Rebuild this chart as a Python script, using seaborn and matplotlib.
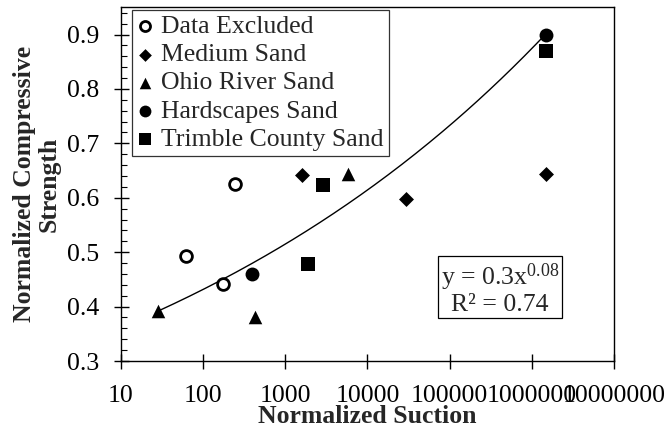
import numpy as np
import pandas as pd
import matplotlib
matplotlib.use("Agg")
import matplotlib.pyplot as plt
import seaborn as sns
from matplotlib.ticker import LogLocator, MultipleLocator, FixedLocator, FixedFormatter

# ---- data -------------------------------------------------------------
excluded_x = [62.5, 175, 247]
excluded_y = [0.493, 0.441, 0.626]

medium_x = [1585, 29200, 1.47e6]
medium_y = [0.641, 0.597, 0.643]

ohio_x = [28.8, 433, 5750]
ohio_y = [0.392, 0.380, 0.643]

hardscapes_x = [394, 1.47e6]
hardscapes_y = [0.460, 0.900]

trimble_x = [1897, 2911, 1.47e6]
trimble_y = [0.478, 0.624, 0.869]

# power-law trendline y = a * x^b
trend_a = 0.303
trend_b = 0.0767
trend_r2 = 0.74
trend_range = [28.8, 1.47e6]

x_ticks = [10, 100, 1000, 10000, 100000, 1000000, 10000000]
x_tick_labels = ["10", "100", "1000", "10000", "100000", "1000000", "10000000"]
y_ticks = [0.3, 0.4, 0.5, 0.6, 0.7, 0.8, 0.9]

# ---- style ------------------------------------------------------------
sns.set_style("white")
plt.rcParams["font.family"] = ["Liberation Serif", "DejaVu Serif"]
plt.rcParams["mathtext.fontset"] = "custom"
plt.rcParams["mathtext.rm"] = "Liberation Serif"
plt.rcParams["mathtext.it"] = "Liberation Serif:italic"
FS = 18.5

fig = plt.figure(figsize=(6.68, 4.29), dpi=100)
ax = fig.add_axes([0.1807, 0.1585, 0.7385, 0.8245])

series = [
    ("Data Excluded", excluded_x, excluded_y, dict(marker="o", s=72, facecolor="white", edgecolor="black", linewidth=2.0)),
    ("Medium Sand", medium_x, medium_y, dict(marker="D", s=58, color="black", linewidth=0)),
    ("Ohio River Sand", ohio_x, ohio_y, dict(marker="^", s=95, color="black", linewidth=0)),
    ("Hardscapes Sand", hardscapes_x, hardscapes_y, dict(marker="o", s=100, color="black", linewidth=0)),
    ("Trimble County Sand", trimble_x, trimble_y, dict(marker="s", s=92, color="black", linewidth=0)),
]

# trendline
tx = np.logspace(np.log10(trend_range[0]), np.log10(trend_range[1]), 200)
trend = pd.DataFrame({"x": tx, "y": trend_a * tx ** trend_b})
sns.lineplot(data=trend, x="x", y="y", ax=ax, color="black", linewidth=1.0, zorder=2)

for name, xs, ys, kw in series:
    df = pd.DataFrame({"x": xs, "y": ys})
    sns.scatterplot(data=df, x="x", y="y", ax=ax, label=name, zorder=3, **kw)

ax.set_xscale("log")
ax.set_xlim(10, 1e7)
ax.set_ylim(0.3, 0.95)

ax.xaxis.set_major_locator(FixedLocator(x_ticks))
ax.xaxis.set_major_formatter(FixedFormatter(x_tick_labels))
ax.xaxis.set_minor_locator(LogLocator(base=10, subs=np.arange(2, 10)))
ax.yaxis.set_major_locator(FixedLocator(y_ticks))
ax.yaxis.set_major_formatter(FixedFormatter([f"{v:.1f}" for v in y_ticks]))
ax.yaxis.set_minor_locator(MultipleLocator(0.02))

ax.tick_params(axis="x", which="major", direction="inout", length=10.8, width=1.0,
               pad=12, labelsize=FS, colors="black")
ax.tick_params(axis="y", which="major", direction="inout", length=10.8, width=1.0,
               pad=10, labelsize=FS, colors="black")
ax.tick_params(axis="both", which="minor", direction="in", length=4.3, width=0.8, colors="black")
ax.tick_params(bottom=True, left=True, top=False, right=False, which="both")

for sp in ax.spines.values():
    sp.set_visible(True)
    sp.set_color("black")
    sp.set_linewidth(1.0)

ax.set_xlabel("Normalized Suction", fontsize=FS, fontweight="bold", labelpad=-1.5)
ax.set_ylabel("Normalized Compressive\nStrength", fontsize=FS, fontweight="bold",
              linespacing=1.1)
ax.yaxis.set_label_coords(-0.122, 0.5)

leg = ax.legend(loc="upper left", bbox_to_anchor=(0.0229, 0.9935), borderaxespad=0,
                fontsize=FS, frameon=True, fancybox=False, framealpha=1,
                edgecolor="#333333", handlelength=0.6, handletextpad=0.3,
                labelspacing=0.2, borderpad=0.22, markerscale=0.85)
leg.get_frame().set_linewidth(0.9)

eq = f"y = {trend_a:.1f}x$^{{{trend_b:.2f}}}$\nR\u00b2 = {trend_r2:.2f}"
ax.text(0.769, 0.205, eq, transform=ax.transAxes, ha="center", va="center",
        fontsize=FS, multialignment="center", linespacing=1.05,
        bbox=dict(boxstyle="square,pad=0.1", facecolor="white", edgecolor="black", linewidth=0.9))

fig.savefig("out.png", dpi=100)
